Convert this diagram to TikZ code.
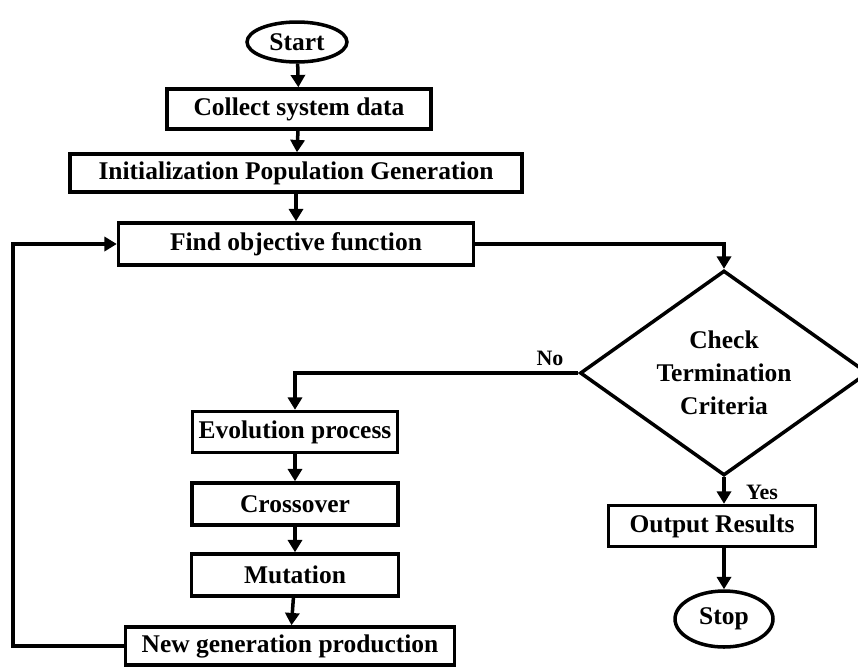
\documentclass[tikz,border=0pt]{standalone}
\usepackage{fontspec}
\setmainfont{Liberation Serif}
\usetikzlibrary{shapes.geometric,arrows.meta}

\tikzset{
    box/.style={draw, line width=2pt, inner sep=0pt, font=\fontsize{14.5}{18.7}\selectfont\bfseries},
    term/.style={box, ellipse},
    decide/.style={box, diamond, aspect=1.4, align=center, minimum width=5.76cm, minimum height=4.1cm},
    flow/.style={line width=2pt, -{Triangle[length=7pt,width=8pt]}},
    lbl/.style={font=\fontsize{12.5}{15}\selectfont\bfseries}
}

\begin{document}
\begin{tikzpicture}[x=0.02cm, y=-0.02cm]
        \useasboundingbox (0,0) rectangle (858,667);

        \node[term, minimum width=2cm, minimum height=0.8cm] (start) at (297,42) {Start};
        \node[box, minimum width=5.28cm, minimum height=0.8cm] (collect) at (299,109) {Collect system data};
        \node[box, minimum width=9.04cm, minimum height=0.76cm] (init) at (296,173) {Initialization Population Generation};
        \node[box, minimum width=7.1cm, minimum height=0.84cm] (find) at (296,244) {Find objective function};
        \node[decide] (check) at (724,373) {Check\\Termination\\Criteria};
        \node[box, minimum width=4.1cm, minimum height=0.82cm] (evo) at (295,432) {Evolution process};
        \node[box, minimum width=4.12cm, minimum height=0.84cm] (cross) at (295,504) {Crossover};
        \node[box, minimum width=4.14cm, minimum height=0.84cm] (mut) at (295,575) {Mutation};
        \node[box, minimum width=6.58cm, minimum height=0.76cm] (newgen) at (290,646) {New generation production};
        \node[box, minimum width=4.14cm, minimum height=0.82cm] (output) at (712,526) {Output Results};
        \node[term, minimum width=1.96cm, minimum height=1.12cm] (stop) at (724,619) {Stop};
        \node[lbl] (no) at (550,358) {No};
        \node[lbl] (yes) at (762,492) {Yes};
        \coordinate (loop) at (13,646);

        \draw[flow] (start) -- (collect);
        \draw[flow] (collect) -- (init);
        \draw[flow] (init) -- (find);
        \draw[flow] (find.east) -| (check.north);
        \draw[flow] (check.west) -| (evo.north);
        \draw[flow] (evo) -- (cross);
        \draw[flow] (cross) -- (mut);
        \draw[flow] (mut) -- (newgen);
        \draw[flow] (newgen.west) -- (loop) |- (find.west);
        \draw[flow] (check.south) -- (check.south |- output.north);
        \draw[flow] (stop |- output.south) -- (stop.north);
    \end{tikzpicture}
\end{document}
